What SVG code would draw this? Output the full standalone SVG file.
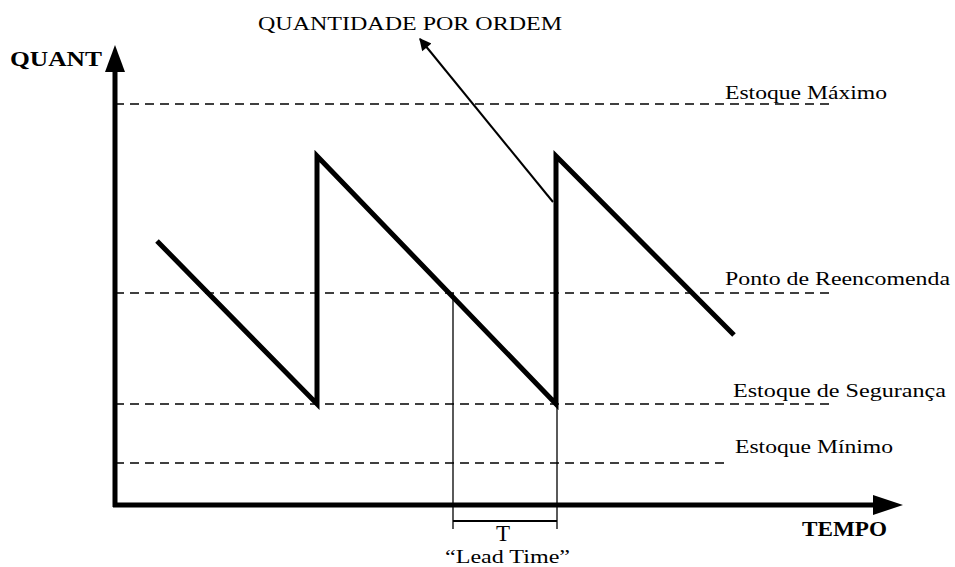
<svg xmlns="http://www.w3.org/2000/svg" width="955" height="567" viewBox="0 0 955 567">
<style>
text{font-family:"Liberation Serif","Times New Roman",serif;fill:#000}
.lbl{font-size:19px}
.bold{font-weight:bold;font-size:21px}
.dash{stroke:#000;stroke-width:1.3;stroke-dasharray:9,6;fill:none}
.thin{stroke:#000;stroke-width:1.3;fill:none}
.saw{stroke:#000;stroke-width:5;fill:none;stroke-linejoin:miter}
</style>
<defs>
<marker id="ah" viewBox="0 0 10 10" refX="9" refY="5" markerWidth="9" markerHeight="6" orient="auto" markerUnits="strokeWidth">
<path d="M0,0 L10,5 L0,10 Z" fill="#000"/>
</marker>
</defs>
<rect width="955" height="567" fill="#fff"/>
<g id="levels">
<line class="dash" x1="115" y1="104" x2="830" y2="104"/>
<line class="dash" x1="115" y1="293" x2="830" y2="293"/>
<line class="dash" x1="115" y1="404" x2="830" y2="404"/>
<line class="dash" x1="115" y1="463" x2="725" y2="463"/>
</g>
<g id="axes">
<line x1="115" y1="507" x2="115" y2="70" stroke="#000" stroke-width="5"/>
<path d="M115,45 L125,72 L105,72 Z" fill="#000"/>
<line x1="113" y1="505" x2="876" y2="505" stroke="#000" stroke-width="5"/>
<path d="M903,505 L873,495 L873,515 Z" fill="#000"/>
</g>
<g id="sawtooth">
<polyline class="saw" points="157,241 317,404 317,156 556,404 556,156 734,335"/>
</g>
<g id="leadtime">
<line class="thin" x1="453" y1="293" x2="453" y2="529"/>
<line class="thin" x1="557" y1="404" x2="557" y2="529"/>
<line x1="453" y1="521" x2="557" y2="521" stroke="#000" stroke-width="2"/>
<text x="503" y="541" text-anchor="middle" style="font-size:23px">T</text>
<text x="445" y="563" style="font-size:18px" textLength="125" lengthAdjust="spacingAndGlyphs">“Lead Time”</text>
</g>
<g id="connectors">
<line x1="553" y1="202" x2="420" y2="39" stroke="#000" stroke-width="2" marker-end="url(#ah)"/>
</g>
<g id="labels">
<text x="258" y="30" class="lbl" textLength="304" lengthAdjust="spacingAndGlyphs">QUANTIDADE POR ORDEM</text>
<text x="10" y="66" class="bold" textLength="92" lengthAdjust="spacingAndGlyphs">QUANT</text>
<text x="802" y="536" class="bold" textLength="85" lengthAdjust="spacingAndGlyphs">TEMPO</text>
<text x="725" y="99" class="lbl" textLength="162" lengthAdjust="spacingAndGlyphs">Estoque Máximo</text>
<text x="725" y="285" class="lbl" textLength="225" lengthAdjust="spacingAndGlyphs">Ponto de Reencomenda</text>
<text x="733" y="397" class="lbl" textLength="213" lengthAdjust="spacingAndGlyphs">Estoque de Segurança</text>
<text x="735" y="453" class="lbl" textLength="158" lengthAdjust="spacingAndGlyphs">Estoque Mínimo</text>
</g>
</svg>
